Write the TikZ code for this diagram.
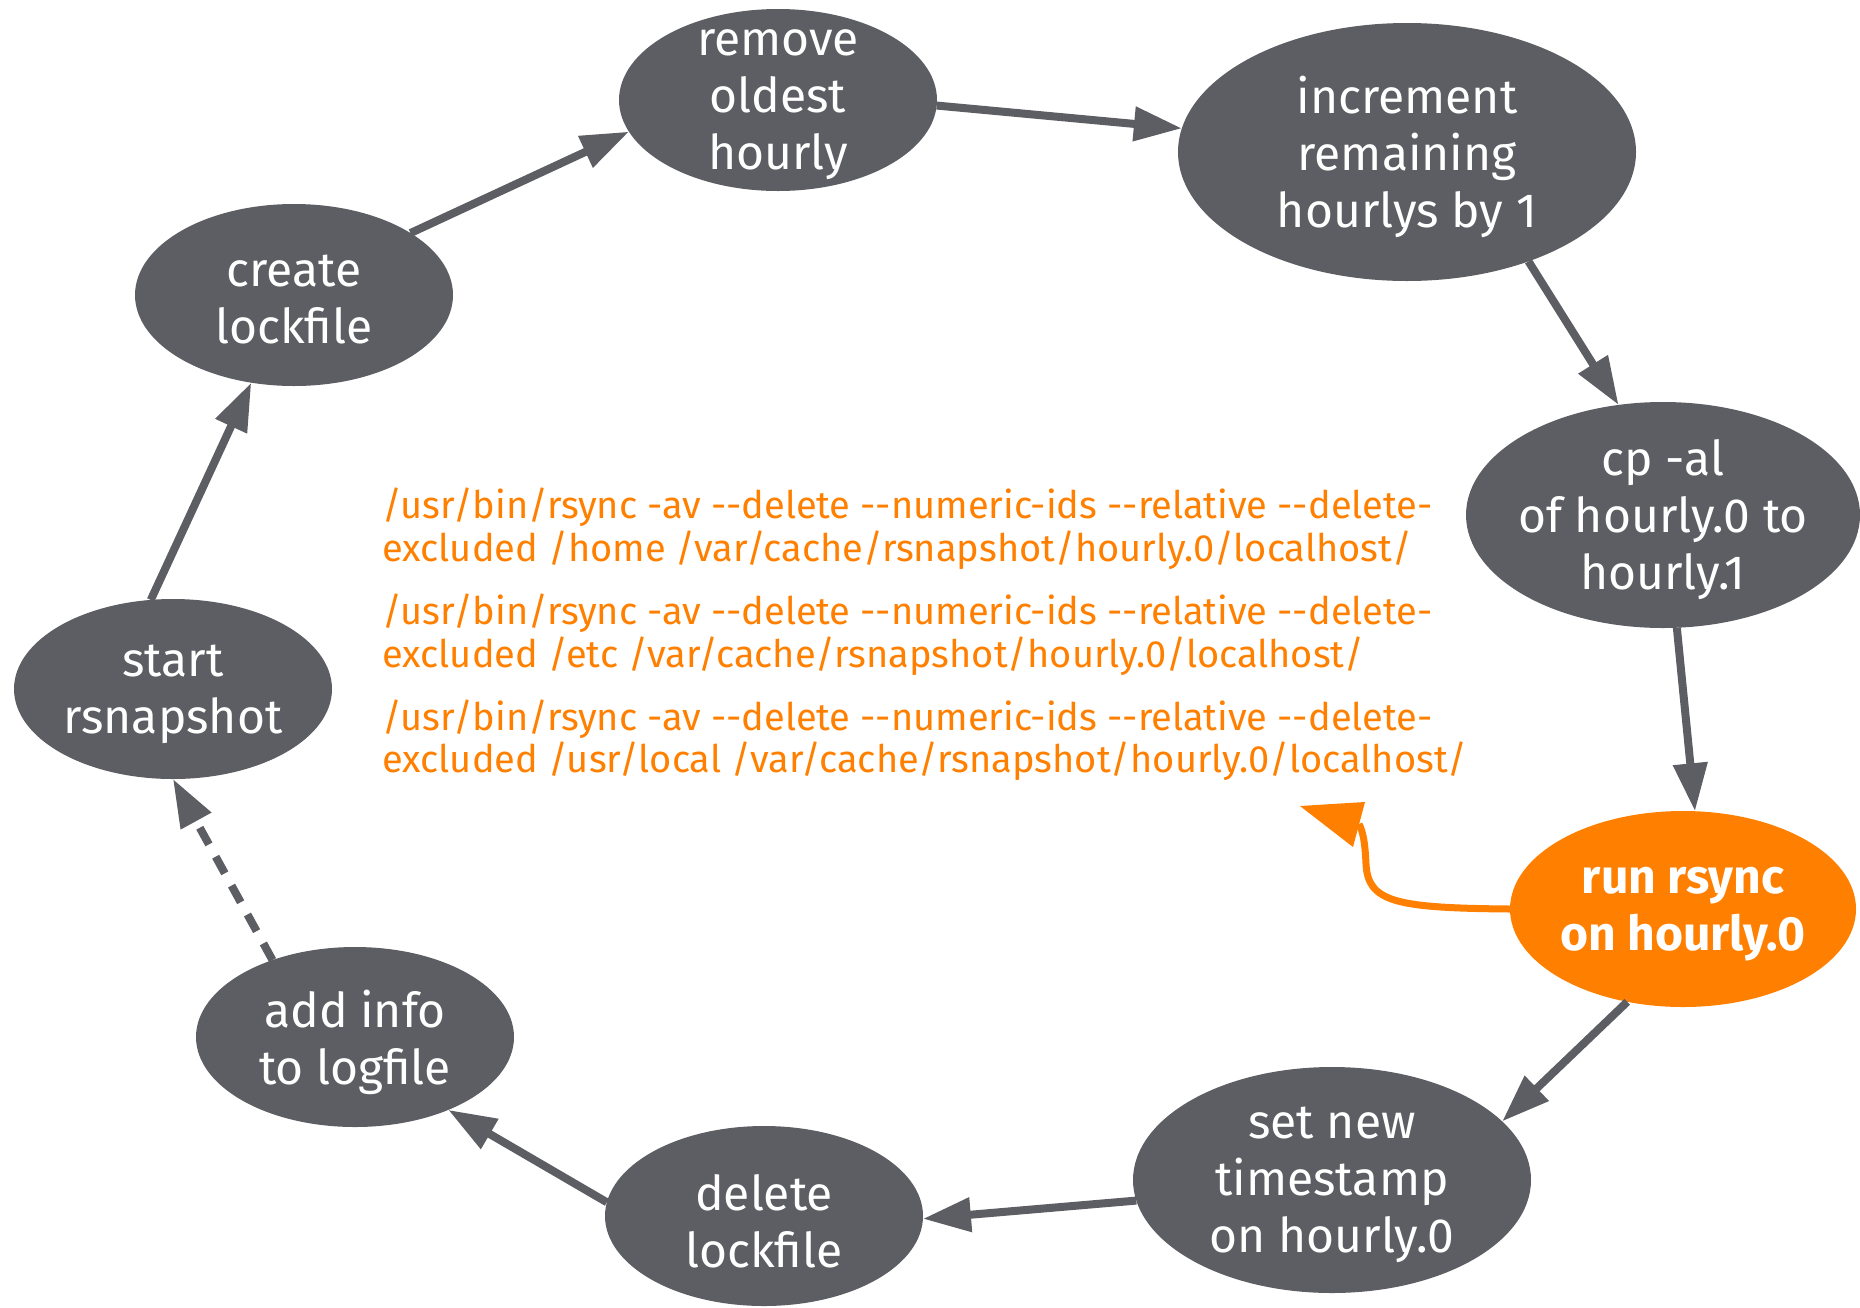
\documentclass[tikz,border=0pt]{standalone}
\usepackage{fontspec}
\setmainfont{Fira Sans}
\newfontfamily\cmdfont{Fira Sans}[Ligatures=TeXOff]
\usetikzlibrary{shapes.geometric,arrows.meta}
\definecolor{slate}{RGB}{93,94,99}
\definecolor{tangerine}{RGB}{255,128,0}

\begin{document}
\begin{tikzpicture}[x=1pt,y=-1pt,
  state/.style={ellipse, fill=slate, draw=none, inner sep=0pt, outer sep=0pt},
  statetext/.style={text=white, align=center, inner sep=0pt, yshift=-5pt,
    font=\fontsize{48}{57}\selectfont},
  hot/.style={state, fill=tangerine},
  hottext/.style={statetext, font=\fontsize{48}{57}\selectfont\bfseries},
  flow/.style={draw=slate, line width=8pt, -{Triangle[length=48pt,width=33pt]}},
  cmdline/.style={text=tangerine, anchor=base west, inner sep=0pt,
    font=\fontsize{38}{43}\cmdfont}
]
\useasboundingbox (0,0) rectangle (1860,1307);

% process steps
\node[state, minimum width=318pt, minimum height=182pt,
  label={[statetext]center:remove\\oldest\\hourly}] (remove) at (778,100) {};
\node[state, minimum width=458pt, minimum height=258pt,
  label={[statetext]center:increment\\remaining\\hourlys by 1}] (incr) at (1407,152) {};
\node[state, minimum width=394pt, minimum height=226pt,
  label={[statetext]center:cp -al\\of hourly.0 to\\hourly.1}] (cp) at (1663,515) {};
\node[hot, minimum width=346pt, minimum height=196pt,
  label={[hottext]center:run rsync\\on hourly.0}] (run) at (1683,909) {};
\node[state, minimum width=398pt, minimum height=226pt,
  label={[statetext]center:set new\\timestamp\\on hourly.0}] (stamp) at (1332,1180) {};
\node[state, minimum width=318pt, minimum height=180pt,
  label={[statetext]center:delete\\lockfile}] (unlock) at (764,1216) {};
\node[state, minimum width=318pt, minimum height=180pt,
  label={[statetext]center:add info\\to logfile}] (log) at (355,1037) {};
\node[state, minimum width=318pt, minimum height=180pt,
  label={[statetext]center:start\\rsnapshot}] (start) at (173,689) {};
\node[state, minimum width=318pt, minimum height=182pt,
  label={[statetext]center:create\\lockfile}] (lock) at (294,295) {};

% the cycle
\draw[flow] (start.104) -- (lock.244.7);
\draw[flow] (lock.28.7) -- (remove.192.6);
\draw[flow] (remove.358.7) -- (incr.174.1);
\draw[flow] (incr.318.5) -- (cp.112.4);
\draw[flow] (cp.277.6) -- (run.83.8);
\draw[flow] (run.239.7) -- (stamp.19);
\draw[flow] (stamp.186.8) -- (unlock.359.2);
\draw[flow] (unlock.175.7) -- (log.322.5);
\draw[flow, dash pattern=on 19pt off 14pt] (log.137.1) -- (start.270);

% rsync commands
\node[cmdline] (c1a) at (382,518) {/usr/bin/rsync -av --delete --numeric-ids --relative --delete-};
\node[cmdline] (c1b) at (382,561) {excluded /home /var/cache/rsnapshot/hourly.0/localhost/};
\node[cmdline] (c2a) at (382,624) {/usr/bin/rsync -av --delete --numeric-ids --relative --delete-};
\node[cmdline] (c2b) at (382,667) {excluded /etc /var/cache/rsnapshot/hourly.0/localhost/};
\node[cmdline] (c3a) at (382,730) {/usr/bin/rsync -av --delete --numeric-ids --relative --delete-};
\node[cmdline] (c3b) at (382,772) {excluded /usr/local /var/cache/rsnapshot/hourly.0/localhost/};

% bent pointer from the rsync step to the commands
\coordinate (hookbase) at (1359,824);
\coordinate (hooktip) at (1300,806);
\draw[tangerine, line width=7pt]
  (run.west) .. controls (1395,908) and (1368,902) .. (1366,864)
  .. controls (1365,842) and (1363,832) .. (hookbase);
\fill[tangerine] (hooktip) -- (1365,802) -- (1353,847) -- cycle;
\end{tikzpicture}
\end{document}
